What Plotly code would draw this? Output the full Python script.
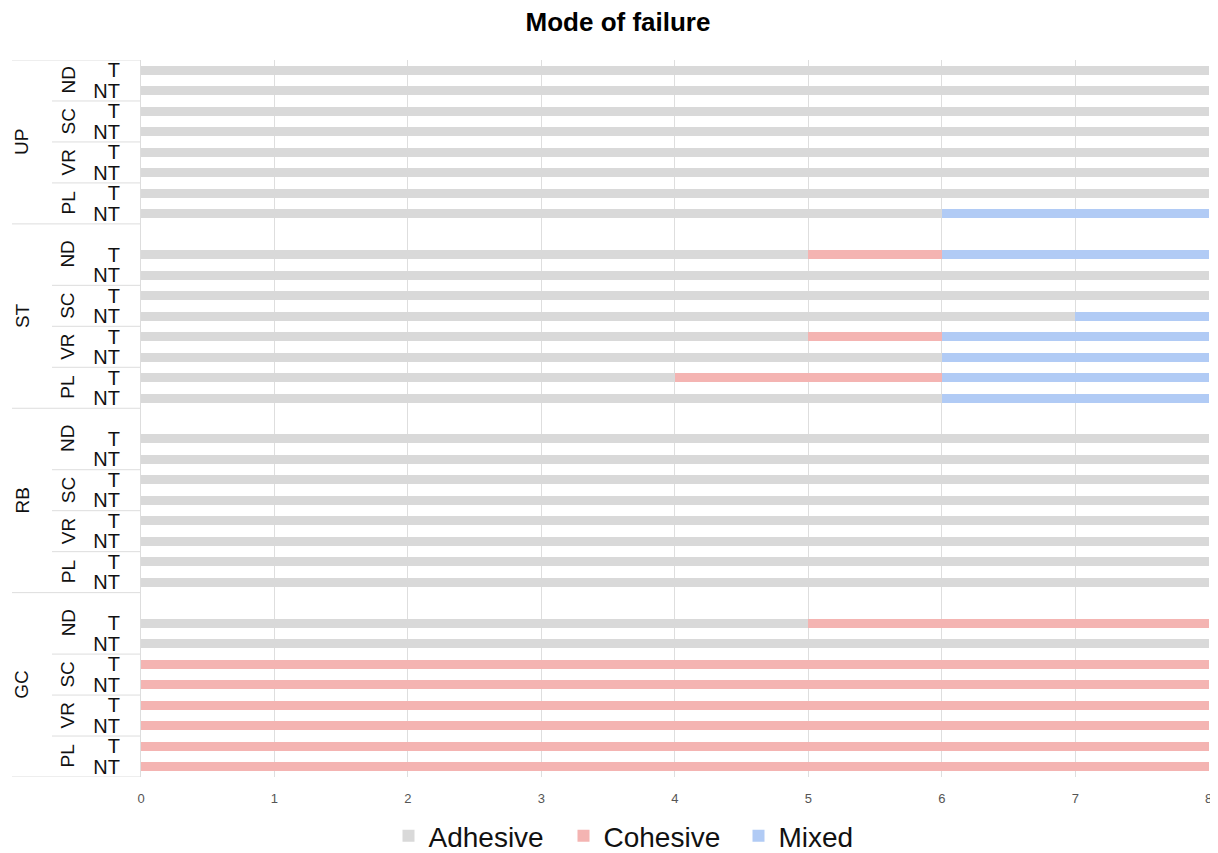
import plotly.graph_objects as go

groups = ["UP", "ST", "RB", "GC"]
materials = ["ND", "SC", "VR", "PL"]
treatments = ["T", "NT"]

# values per group, in order ND T, ND NT, SC T, SC NT, VR T, VR NT, PL T, PL NT
adhesive = {
    "UP": [8, 8, 8, 8, 8, 8, 8, 6],
    "ST": [5, 8, 8, 7, 5, 6, 4, 6],
    "RB": [8, 8, 8, 8, 8, 8, 8, 8],
    "GC": [5, 8, 0, 0, 0, 0, 0, 0],
}
cohesive = {
    "UP": [0, 0, 0, 0, 0, 0, 0, 0],
    "ST": [1, 0, 0, 0, 1, 0, 2, 0],
    "RB": [0, 0, 0, 0, 0, 0, 0, 0],
    "GC": [3, 0, 8, 8, 8, 8, 8, 8],
}
mixed = {
    "UP": [0, 0, 0, 0, 0, 0, 0, 2],
    "ST": [2, 0, 0, 1, 2, 2, 2, 2],
    "RB": [0, 0, 0, 0, 0, 0, 0, 0],
    "GC": [0, 0, 0, 0, 0, 0, 0, 0],
}

series_names = ["Adhesive", "Cohesive", "Mixed"]
series_data = [adhesive, cohesive, mixed]
colors = ["#d9d9d9", "#f4b4b2", "#b1cbf5"]

# Build category list (spacer slot before each group except the first)
cats, tickvals, ticktext = [], [], []
vals = [[] for _ in series_names]
group_spans = []
mat_spans = []
for gi, g in enumerate(groups):
    g_start = len(cats)
    if gi > 0:
        cats.append(f"{g} gap")
        for v in vals:
            v.append(None)
    k = 0
    for m in materials:
        m_start = len(cats) if not (m == "ND" and gi > 0) else len(cats) - 1
        for t in treatments:
            c = f"{g} {m} {t}"
            cats.append(c)
            tickvals.append(c)
            ticktext.append(t)
            for si, sd in enumerate(series_data):
                val = sd[g][k]
                vals[si].append(val if val else None)
            k += 1
        mat_spans.append((m, m_start, len(cats) - 1))
    group_spans.append((g, g_start, len(cats) - 1))

fig = go.Figure()
for si, name in enumerate(series_names):
    fig.add_trace(go.Bar(
        y=cats, x=vals[si], name=name, orientation="h",
        marker=dict(color=colors[si], line=dict(width=0)),
    ))

# page has an 8px body margin: figure is 1210x845 placed at (8, 8)
W, H = 1210, 845
L, R, T, B = 133, 9, 52, 76
plot_w = W - L - R
shapes = []
annotations = []
gx0 = -(L - 4) / plot_w
mx0 = -(L - 44) / plot_w
for g, a, b in group_spans:
    shapes.append(dict(type="line", xref="paper", yref="y", x0=gx0, x1=0,
                       y0=a - 0.5, y1=a - 0.5, line=dict(color="#dddddd", width=1)))
    annotations.append(dict(text=g, xref="paper", yref="y", x=0, xshift=-119,
                            y=(a + b) / 2, textangle=-90, showarrow=False,
                            font=dict(size=19, color="#111111"),
                            xanchor="center", yanchor="middle"))
shapes.append(dict(type="line", xref="paper", yref="y", x0=gx0, x1=0,
                   y0=len(cats) - 0.5, y1=len(cats) - 0.5,
                   line=dict(color="#dddddd", width=1)))
for m, a, b in mat_spans:
    if m != "ND":
        shapes.append(dict(type="line", xref="paper", yref="y", x0=mx0, x1=0,
                           y0=a - 0.5, y1=a - 0.5, line=dict(color="#dddddd", width=1)))
    annotations.append(dict(text=m, xref="paper", yref="y", x=0, xshift=-73,
                            y=(a + b) / 2, textangle=-90, showarrow=False,
                            font=dict(size=19, color="#111111"),
                            xanchor="center", yanchor="middle"))

fig.update_layout(
    width=W, height=H,
    barmode="stack", bargap=0.56,
    plot_bgcolor="white", paper_bgcolor="white",
    font=dict(family="Liberation Sans, Arial, sans-serif"),
    title=dict(text="<b>Mode of failure</b>", x=(618 - 8) / W, xanchor="center",
               y=1 - 14 / H, yanchor="middle",
               font=dict(size=26, color="#000000")),
    margin=dict(l=L, r=R, t=T, b=B, autoexpand=False),
    xaxis=dict(range=[0, 8.002], dtick=1, showgrid=True, gridcolor="#dedede",
               gridwidth=1, zeroline=False, showline=False, automargin=False,
               tickfont=dict(size=13, color="#555555"), ticks="",
               ticklabelstandoff=12, fixedrange=True),
    yaxis=dict(categoryorder="array", categoryarray=cats,
               range=[len(cats) - 0.5, -0.5], automargin=False,
               tickvals=tickvals, ticktext=ticktext, ticks="",
               tickfont=dict(size=20, color="#111111"),
               showgrid=False, showline=True, linecolor="#dddddd",
               zeroline=False, ticklabelstandoff=16),
    legend=dict(orientation="h", xref="container", x=(651 - 8) / W,
                xanchor="center",
                yref="container", y=1 - 828 / H, yanchor="middle",
                font=dict(size=28, color="#111111"),
                itemwidth=30, entrywidth=130, entrywidthmode="pixels",
                traceorder="normal"),
    shapes=shapes, annotations=annotations,
    showlegend=True,
)

fig.write_html("out.html")
